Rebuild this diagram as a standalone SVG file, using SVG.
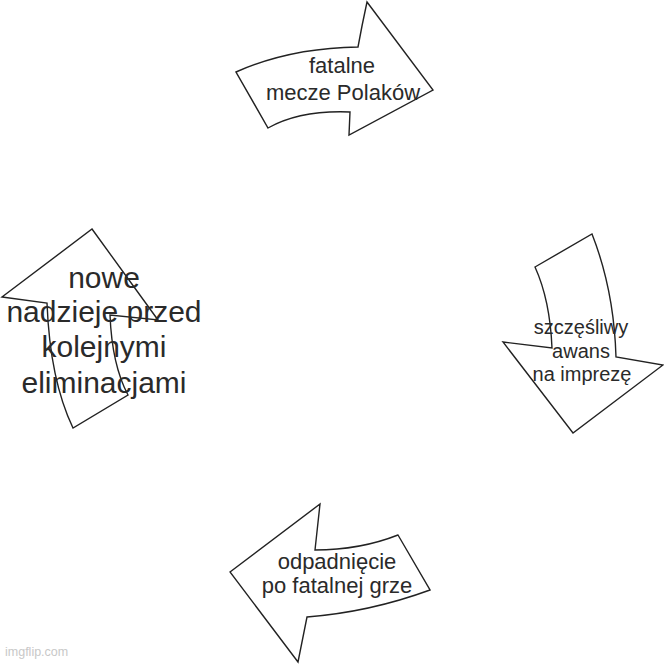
<svg xmlns="http://www.w3.org/2000/svg" width="664" height="664" viewBox="0 0 664 664">
<style>
.arrow{fill:#fff;stroke:#222;stroke-width:1.4;stroke-linejoin:miter}
.t{font-family:"Liberation Sans",Arial,sans-serif;fill:#2a2a2a;text-anchor:middle}
.wm{font-family:"Liberation Sans",Arial,sans-serif;fill:#c8c8c8;font-size:12.5px}
</style>
<rect width="664" height="664" fill="#fff"/>
<g id="connectors"></g>
<g id="node-top">
<path class="arrow" d="M236,72 Q290,48 358,47 Q362,25 367,2 L433,90 L349,135 L350,112 Q300,110 268,128 Z"/>
<text class="t" font-size="22" x="342" y="73">fatalne</text>
<text class="t" font-size="22" x="343" y="100">mecze Polaków</text>
</g>
<g id="node-right">
<path class="arrow" d="M535,267 L592,234 Q614,290 616,357 L663,365 L573,433 L503,342 L552,348 Q550,300 535,267 Z"/>
<text class="t" font-size="20" x="581" y="334">szczęśliwy</text>
<text class="t" font-size="20" x="581" y="358">awans</text>
<text class="t" font-size="20" x="582" y="381">na imprezę</text>
</g>
<g id="node-bottom">
<path class="arrow" d="M230,572 L320,504 L315,550 Q360,550 398,535 L430,590 Q370,612 307,617 L298,662 Z"/>
<text class="t" font-size="22" x="337" y="569">odpadnięcie</text>
<text class="t" font-size="22" x="337" y="593">po fatalnej grze</text>
</g>
<g id="node-left">
<path class="arrow" d="M92,229 L158,320 L110,315 Q112,365 128,395 L73,428 Q50,380 47,303 L2,297 Z"/>
<text class="t" font-size="30" x="104" y="288">nowe</text>
<text class="t" font-size="30" x="104" y="322">nadzieje przed</text>
<text class="t" font-size="30" x="104" y="357">kolejnymi</text>
<text class="t" font-size="30" x="104" y="393">eliminacjami</text>
</g>
<text class="wm" x="5" y="656">imgflip.com</text>
</svg>
